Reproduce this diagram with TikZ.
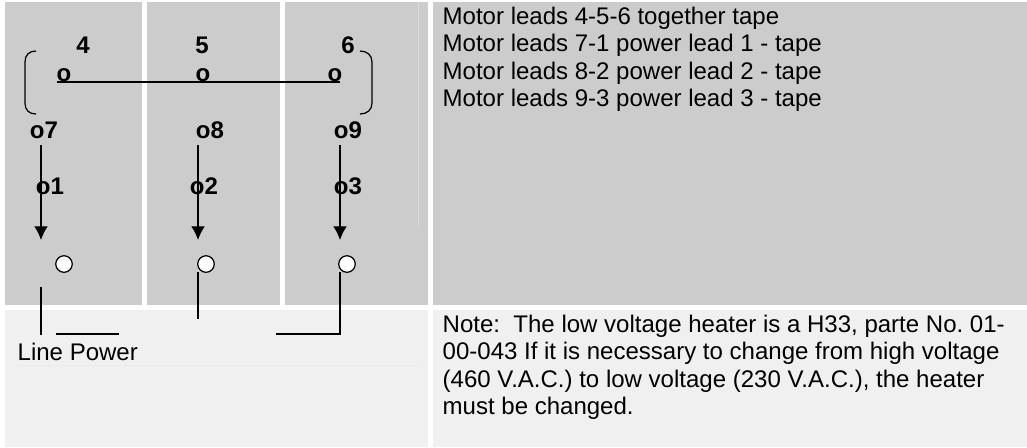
\documentclass[tikz,border=0pt]{standalone}
\usepackage{fontspec}
\setmainfont{Liberation Sans}
\usepackage{tikz}
\usetikzlibrary{arrows.meta}

\tikzset{
    panel/.style={fill=black!20,draw=none},
    lowpanel/.style={fill=black!6,draw=none},
    term/.style={inner sep=0pt,font=\fontsize{6.83}{7.85}\selectfont\bfseries},
    note/.style={inner sep=0pt,anchor=west,align=left,font=\fontsize{6.83}{7.85}\selectfont\frenchspacing},
    lug/.style={circle,draw=black,fill=white,line width=.35pt,inner sep=0pt,minimum size=4.7pt},
    lead/.style={line width=.35pt},
    flow/.style={line width=.35pt,-{Latex[length=3.9pt,width=3.9pt]}}
}

\begin{document}
\begin{tikzpicture}[x=.01cm,y=-.01cm]
        
        \useasboundingbox (0,0) rectangle (1027,447);
        
        \fill[panel] (5,2) rectangle (142,305);
        \fill[panel] (147,2) rectangle (280,305);
        \fill[panel] (285,2) rectangle (428,305);
        \fill[panel] (433,2) rectangle (1027,305);
        \fill[lowpanel] (5,310) rectangle (428,447);
        \fill[lowpanel] (433,310) rectangle (1027,447);
        
        % seams left in the shading
        \draw[black!14,line width=.2pt] (418,2) -- (418,227);
        \draw[black!8,line width=.2pt] (17,365) -- (418,365);
        
        \node[term] (num4) at (83,45) {4};
        \node[term] (num5) at (202,45) {5};
        \node[term] (num6) at (348,45) {6};
        
        \node[term] (star4) at (64,75) {o};
        \node[term] (star5) at (203,75) {o};
        \node[term] (star6) at (335,75) {o};
        
        \coordinate (busa) at (57,82);
        \coordinate (busb) at (340,82);
        \draw[line width=.5pt] (busa) -- (busb);
        
        \draw[lead] (36,51) .. controls (29,51) and (25,55) .. (25,62) -- (25,103) .. controls (25,110) and (29,114) .. (36,114);
        \draw[lead] (360,51) .. controls (367,51) and (372,55) .. (372,62) -- (372,103) .. controls (372,110) and (367,114) .. (360,114);
        
        \node[term] (lead7) at (44,130) {o7};
        \node[term] (lead8) at (210,130) {o8};
        \node[term] (lead9) at (348,130) {o9};
        
        \coordinate (topa) at (41,145);
        \coordinate (topb) at (198,145);
        \coordinate (topc) at (340,145);
        \coordinate (tipa) at (41,240);
        \coordinate (tipb) at (198,240);
        \coordinate (tipc) at (340,240);
        \draw[flow] (topa) -- (tipa);
        \draw[flow] (topb) -- (tipb);
        \draw[flow] (topc) -- (tipc);
        
        \node[term] (lead1) at (50,186) {o1};
        \node[term] (lead2) at (204,186) {o2};
        \node[term] (lead3) at (348,186) {o3};
        
        \node[lug] (luga) at (64,264) {};
        \node[lug] (lugb) at (206,264) {};
        \node[lug] (lugc) at (347,264) {};
        
        \coordinate (wirea) at (41,287);
        \coordinate (wireb) at (41,335);
        \coordinate (wirec) at (56,334);
        \coordinate (wired) at (119,334);
        \coordinate (wiree) at (198,272);
        \coordinate (wiref) at (198,319);
        \coordinate (wireg) at (340,272);
        \coordinate (wireh) at (340,334);
        \coordinate (wirei) at (276,334);
        \draw[lead] (wirea) -- (wireb);
        \draw[lead] (wirec) -- (wired);
        \draw[lead] (wiree) -- (wiref);
        \draw[lead] (wireg) -- (wireh) -- (wirei);
        
        \node[note] (linepower) at (17,352) {Line Power};
        
        \node[note,anchor=north west] (leads) at (442,6) {Motor leads 4-5-6 together tape\\Motor leads 7-1 power lead 1 - tape\\Motor leads 8-2 power lead 2 - tape\\Motor leads 9-3 power lead 3 - tape};
        \node[note,anchor=north west] (heater) at (442,314) {Note:\ \ The low voltage heater is a H33, parte No. 01-\\00-043 If it is necessary to change from high voltage\\(460 V.A.C.) to low voltage (230 V.A.C.), the heater\\must be changed.};
        
    \end{tikzpicture}
\end{document}
